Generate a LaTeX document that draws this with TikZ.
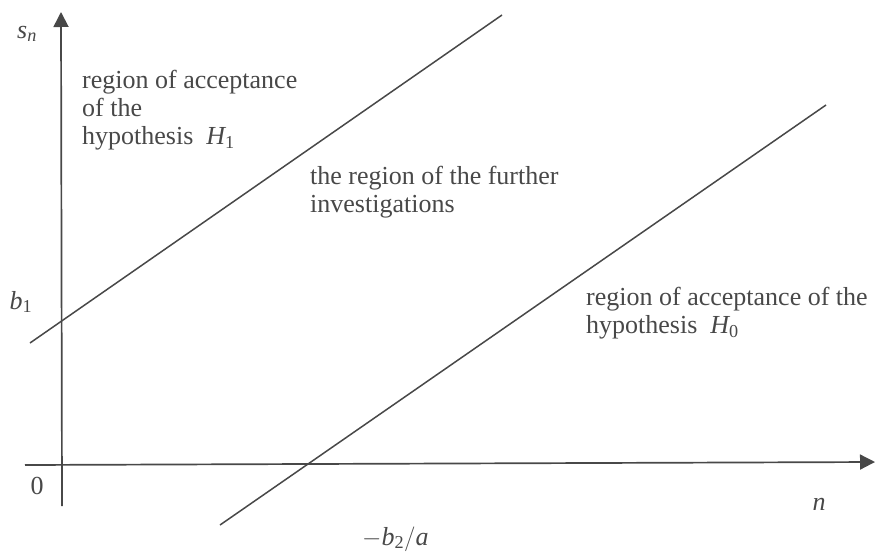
\documentclass[tikz,border=0pt]{standalone}
\usepackage{amsmath}
\usepackage{fontspec}
\setmainfont{Liberation Serif}
\usetikzlibrary{arrows.meta}
\definecolor{SPInk}{RGB}{72,72,72}

\begin{document}
\begin{tikzpicture}[x=1pt, y=-1pt,
    axis/.style={line width=1.7pt, SPInk, -{Triangle[length=15pt, width=15pt]}},
    bound/.style={line width=1.5pt, SPInk},
    lbl/.style={font=\fontsize{26}{28}\selectfont, text=SPInk, inner sep=0pt},
    region/.style={lbl, align=left, anchor=west}
  ]
  \useasboundingbox (0,0) rectangle (877,554);

  % Axes
  \coordinate (xstart) at (25,465);
  \coordinate (xend)   at (875,462);
  \coordinate (ystart) at (62,506);
  \coordinate (yend)   at (61,12);
  \draw[axis] (xstart) -- (xend);
  \draw[axis] (ystart) -- (yend);

  % Boundary lines
  \coordinate (upA) at (30,343);
  \coordinate (upB) at (502,15);
  \coordinate (loA) at (220,525);
  \coordinate (loB) at (826,105);
  \draw[bound] (upA) -- (upB);
  \draw[bound] (loA) -- (loB);

  % Axis labels
  \node[lbl] (sn)   at (27,34)  {$\textit{s}_{\textit{n}}$};
  \node[lbl] (b1)   at (21,302) {$\textit{b}_{\text{1}}$};
  \node[lbl] (zero) at (37,486) {0};
  \node[lbl] (nlab) at (819,504) {\textit{n}};
  \node[lbl, anchor=base west] (b2a) at (362,545) {$-\textit{b}_{\text{2}}/\textit{a}$};

  % Regions
  \node[region] (accH1) at (82,110)
    {region of acceptance\\of the\\hypothesis~ $\textit{H}_{\text{1}}$};
  \node[region] (further) at (310,192)
    {the region of the further\\investigations};
  \node[region] (accH0) at (586,313)
    {region of acceptance of the\\hypothesis~ $\textit{H}_{\text{0}}$};
\end{tikzpicture}
\end{document}
